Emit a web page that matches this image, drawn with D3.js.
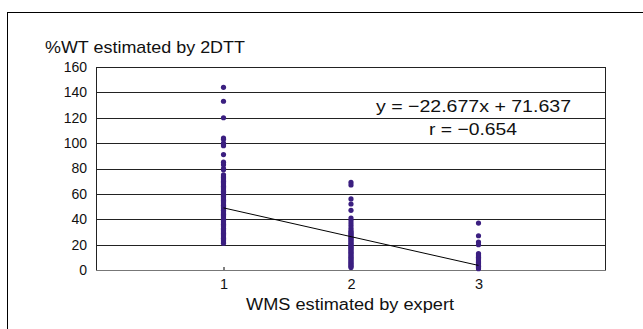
<!DOCTYPE html>
<html>
<head>
<meta charset="utf-8">
<script src="https://cdn.jsdelivr.net/npm/d3@7"></script>
<style>
  body { margin: 0; background: #fff; }
  svg text { font-family: "Liberation Sans", "Noto Sans", sans-serif; fill: #111; }
</style>
</head>
<body>
<div id="chart"></div>
<script>
// WMS grade (x) and %WT values
const group1 = [144, 133, 120, 104, 103, 100, 99, 98, 91, 85, 83, 80, 79, 75, 74, 73, 72, 71, 70,
  69, 68, 67, 66, 65, 64, 63, 62, 61, 60, 59, 58, 57, 56, 55, 54, 53, 52, 51, 50, 49, 48, 47, 46,
  45, 44, 43, 42, 41, 40, 39, 38, 37, 36, 35, 34, 33, 32, 31, 30, 29, 28, 27, 26, 25, 24, 23, 22, 21];
const group2 = [69, 67, 56, 52, 47, 41, 39, 37, 35, 33, 31, 30, 29, 28, 27, 26, 25, 24, 23, 22,
  21, 20, 19, 18, 17, 16, 15, 14, 13, 12, 11, 10, 9, 8, 7, 6, 5, 4, 3, 2];
const group3 = [37, 27, 22, 20, 13, 12, 11, 10, 9, 8, 7, 6, 5, 4, 3, 2, 1];
const groups = [group1, group2, group3];

const xTicks = [1, 2, 3];
const yTicks = [0, 20, 40, 60, 80, 100, 120, 140, 160];
const slope = -22.677, intercept = 71.637;
const fitRange = [1, 3];
const eqText = "y = \u221222.677x + 71.637";
const rText = "r = \u22120.654";

const W = 643, H = 329;
const margin = { top: 67, right: 37, bottom: 59, left: 96 };
const width = W - margin.left - margin.right,
      height = H - margin.top - margin.bottom;

const svg = d3.select("#chart").append("svg")
    .attr("width", W).attr("height", H);

// outer frame (runs off the right/bottom edge)
svg.append("rect")
    .attr("x", 7.5).attr("y", 12.5)
    .attr("width", W).attr("height", H)
    .attr("fill", "none").attr("stroke", "#000").attr("stroke-width", 1);

const g = svg.append("g")
    .attr("transform", "translate(" + margin.left + "," + margin.top + ")");

let x = d3.scaleLinear().domain([0, 4]).range([0, width]);
let y = d3.scaleLinear().domain([0, 160]).range([height, 0]);

// gridlines
g.selectAll("line.grid")
    .data(yTicks)
    .enter().append("line")
    .attr("class", "grid")
    .attr("x1", 0).attr("x2", width)
    .attr("y1", d => Math.round(y(d)) + 0.5)
    .attr("y2", d => Math.round(y(d)) + 0.5)
    .attr("stroke", d => d === 0 ? "#777" : "#222")
    .attr("stroke-width", 1);

// plot box left + right sides
g.append("line").attr("x1", 0.5).attr("x2", 0.5).attr("y1", 0).attr("y2", height)
    .attr("stroke", "#222");
g.append("line").attr("x1", width - 0.5).attr("x2", width - 0.5).attr("y1", 0).attr("y2", height)
    .attr("stroke", "#222");

// y axis labels
let yAxis = g.append("g")
    .call(d3.axisLeft(y).tickValues(yTicks).tickSize(0).tickPadding(9));
yAxis.select(".domain").remove();
yAxis.selectAll("text").style("font-size", "14px").attr("fill", "#111");

// x axis labels with tiny ticks
let xAxis = g.append("g")
    .attr("transform", "translate(0," + height + ")")
    .call(d3.axisBottom(x).tickValues(xTicks).tickSize(3).tickPadding(6).tickFormat(d3.format("d")));
xAxis.select(".domain").remove();
xAxis.selectAll("line").attr("stroke", "#000").attr("transform", "translate(0,-3)");
xAxis.selectAll("text").style("font-size", "14.5px").attr("fill", "#111");

// points
groups.forEach((vals, i) => {
    g.selectAll("circle.g" + i)
        .data(vals)
        .enter().append("circle")
        .attr("class", "g" + i)
        .attr("cx", x(xTicks[i]))
        .attr("cy", d => y(d))
        .attr("r", 2.6)
        .attr("fill", "#3b1f80");
});

// regression line
g.append("path")
    .datum(fitRange)
    .attr("fill", "none")
    .attr("stroke", "#000")
    .attr("stroke-width", 1)
    .attr("d", d3.line()
        .x(d => x(d))
        .y(d => y(slope * d + intercept)));

// equation text
svg.append("text")
    .attr("x", 376).attr("y", 112)
    .attr("textLength", 195).attr("lengthAdjust", "spacingAndGlyphs")
    .style("font-size", "17px")
    .text(eqText);
svg.append("text")
    .attr("x", 429).attr("y", 135)
    .attr("textLength", 88).attr("lengthAdjust", "spacingAndGlyphs")
    .style("font-size", "17px")
    .text(rText);

// axis titles
svg.append("text")
    .attr("x", 45).attr("y", 53)
    .attr("textLength", 200).attr("lengthAdjust", "spacingAndGlyphs")
    .style("font-size", "17px")
    .text("%WT estimated by 2DTT");
svg.append("text")
    .attr("x", 246).attr("y", 310)
    .attr("textLength", 208).attr("lengthAdjust", "spacingAndGlyphs")
    .style("font-size", "16px")
    .text("WMS estimated by expert");
</script>
</body>
</html>
